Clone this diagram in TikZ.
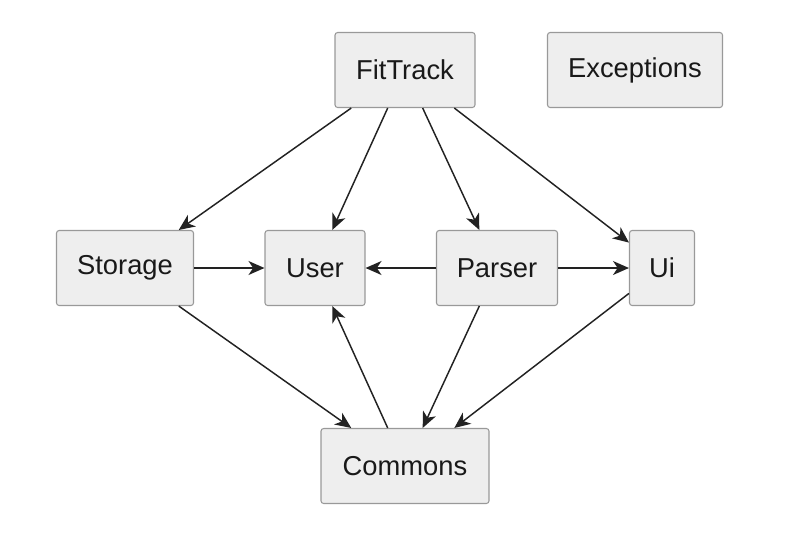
\documentclass[tikz,border=0pt]{standalone}
\usepackage{fontspec}
\setmainfont{Liberation Sans}
\usetikzlibrary{arrows, arrows.meta}
\definecolor{boxfill}{HTML}{EEEEEE}
\definecolor{boxline}{HTML}{999999}
\definecolor{arrowline}{HTML}{222222}

\begin{document}
\begin{tikzpicture}[x=0.75pt, y=-0.75pt,
    comp/.style={rectangle, draw=boxline, fill=boxfill, line width=0.8pt, rounded corners=2pt,
      minimum height=56.25pt, inner sep=0pt, font=\fontsize{20.5}{24}\selectfont, text=black!90},
    dep/.style={-{Stealth[length=12pt, width=10.5pt, inset=3.5pt]}, draw=arrowline, line width=1.1pt}]
    \useasboundingbox (0,0) rectangle (797,533);

    \node[comp, minimum width=105pt] (fittrack) at (405,70) {FitTrack};
    \node[comp, minimum width=131.25pt] (exceptions) at (635,70) {Exceptions};
    \node[comp, minimum width=102.75pt] (storage) at (125,268) {Storage};
    \node[comp, minimum width=75pt] (user) at (315,268) {User};
    \node[comp, minimum width=90.75pt] (parser) at (497,268) {Parser};
    \node[comp, minimum width=48.75pt] (ui) at (662,268) {Ui};
    \node[comp, minimum width=126pt] (commons) at (405,466) {Commons};

    \draw[dep] (fittrack) -- (storage);
    \draw[dep] (fittrack) -- (user);
    \draw[dep] (fittrack) -- (parser);
    \draw[dep] (fittrack) -- (ui);
    \draw[dep] (storage) -- (user);
    \draw[dep] (parser) -- (user);
    \draw[dep] (parser) -- (ui);
    \draw[dep] (storage) -- (commons);
    \draw[dep] (commons) -- (user);
    \draw[dep] (parser) -- (commons);
    \draw[dep] (ui) -- (commons);
  \end{tikzpicture}
\end{document}
